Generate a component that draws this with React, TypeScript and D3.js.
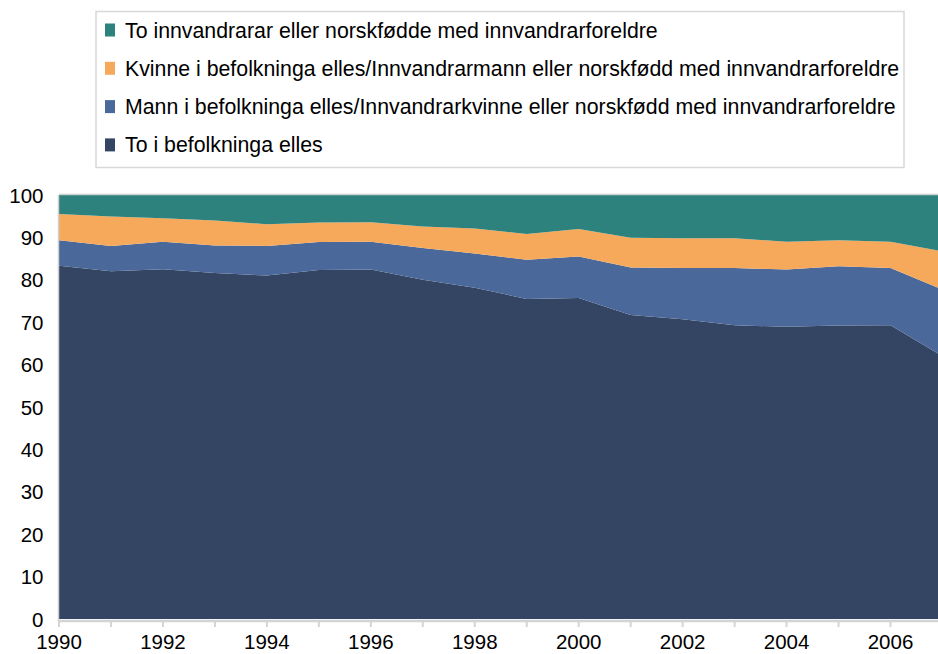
import React, { useEffect, useRef } from 'react';
import * as d3 from 'd3';

const years = [1990, 1991, 1992, 1993, 1994, 1995, 1996, 1997, 1998, 1999, 2000, 2001, 2002, 2003, 2004, 2005, 2006, 2007];

// shares in percent, bottom to top
const toBefolkninga = [83.3, 82.0, 82.5, 81.6, 81.0, 82.3, 82.4, 80.0, 78.1, 75.5, 75.7, 71.7, 70.7, 69.3, 68.9, 69.2, 69.3, 62.0];
const mannBefolkninga = [6.0, 6.0, 6.5, 6.5, 7.0, 6.6, 6.6, 7.5, 8.1, 9.2, 9.8, 11.2, 12.1, 13.5, 13.5, 14.0, 13.5, 15.7];
const kvinneBefolkninga = [6.2, 6.9, 5.5, 5.9, 5.1, 4.6, 4.6, 5.1, 5.9, 6.1, 6.5, 7.0, 7.0, 7.0, 6.6, 6.1, 6.2, 9.0];
const toInnvandrarar = [4.5, 5.1, 5.5, 6.0, 6.9, 6.5, 6.4, 7.4, 7.9, 9.2, 8.0, 10.1, 10.2, 10.2, 11.0, 10.7, 11.0, 13.3];

const seriesKeys = ['to', 'mann', 'kvinne', 'innv'];
const seriesNames = [
  'To i befolkninga elles',
  'Mann i befolkninga elles/Innvandrarkvinne eller norskfødd med innvandrarforeldre',
  'Kvinne i befolkninga elles/Innvandrarmann eller norskfødd med innvandrarforeldre',
  'To innvandrarar eller norskfødde med innvandrarforeldre',
];
const seriesColors = ['#344564', '#4a6899', '#f6a95b', '#2d827e'];

const yTicks = [0, 10, 20, 30, 40, 50, 60, 70, 80, 90, 100];
const xLabelYears = [1990, 1992, 1994, 1996, 1998, 2000, 2002, 2004, 2006];

const App = () => {
  const svgRef = useRef<SVGSVGElement | null>(null);

  useEffect(() => {
    const svg = d3.select(svgRef.current);
    svg.selectAll('*').remove();

    const font = '"Liberation Sans", Arial, sans-serif';
    const left = 59;
    const right = 942.5;
    const top = 195;
    const bottom = 619;

    const table = years.map((year, i) => ({
      year,
      to: toBefolkninga[i],
      mann: mannBefolkninga[i],
      kvinne: kvinneBefolkninga[i],
      innv: toInnvandrarar[i],
    }));

    const x = d3.scaleLinear().domain([1990, 2007]).range([left, right]);
    const y = d3.scaleLinear().domain([0, 100]).range([bottom, top]);

    const stacked = d3.stack<any>().keys(seriesKeys)(table);

    const area = d3
      .area<any>()
      .x((d) => x(d.data.year))
      .y0((d) => y(d[0]))
      .y1((d) => y(d[1]));

    svg
      .append('g')
      .selectAll('path')
      .data(stacked)
      .enter()
      .append('path')
      .attr('d', area)
      .attr('fill', (d, i) => seriesColors[i]);

    // plot frame
    svg
      .append('line')
      .attr('x1', left)
      .attr('x2', right)
      .attr('y1', top - 0.5)
      .attr('y2', top - 0.5)
      .attr('stroke', '#d0d0d0')
      .attr('stroke-width', 1.5);
    svg
      .append('line')
      .attr('x1', left - 0.5)
      .attr('x2', left - 0.5)
      .attr('y1', top)
      .attr('y2', bottom + 2)
      .attr('stroke', '#d0d0d0')
      .attr('stroke-width', 1.5);
    svg
      .append('line')
      .attr('x1', left - 1)
      .attr('x2', right)
      .attr('y1', bottom + 2)
      .attr('y2', bottom + 2)
      .attr('stroke', '#d4d4d4')
      .attr('stroke-width', 2.5);

    svg
      .append('g')
      .selectAll('line')
      .data(years)
      .enter()
      .append('line')
      .attr('x1', (d) => x(d))
      .attr('x2', (d) => x(d))
      .attr('y1', bottom + 2)
      .attr('y2', bottom + 8)
      .attr('stroke', '#d4d4d4')
      .attr('stroke-width', 2);

    svg
      .append('g')
      .selectAll('text')
      .data(xLabelYears)
      .enter()
      .append('text')
      .attr('x', (d) => x(d))
      .attr('y', 649)
      .attr('text-anchor', 'middle')
      .attr('font-family', font)
      .attr('font-size', 20.5)
      .attr('fill', '#000')
      .text((d) => d);

    svg
      .append('g')
      .selectAll('text')
      .data(yTicks)
      .enter()
      .append('text')
      .attr('x', 43.5)
      .attr('y', (d) => y(d) + 7.5)
      .attr('text-anchor', 'end')
      .attr('font-family', font)
      .attr('font-size', 20.5)
      .attr('fill', '#000')
      .text((d) => d);

    // legend
    const legend = svg.append('g');
    legend
      .append('rect')
      .attr('x', 96)
      .attr('y', 11.5)
      .attr('width', 808)
      .attr('height', 156)
      .attr('fill', '#fff')
      .attr('stroke', '#d8d8d8')
      .attr('stroke-width', 1.5);

    const order = [3, 2, 1, 0];
    order.forEach((si, row) => {
      const cy = 30 + row * 38.3;
      legend
        .append('rect')
        .attr('x', 105)
        .attr('y', cy - 6.5)
        .attr('width', 10)
        .attr('height', 13)
        .attr('fill', seriesColors[si]);
      legend
        .append('text')
        .attr('x', 125)
        .attr('y', cy + 7.5)
        .attr('font-family', font)
        .attr('font-size', 21.3)
        .attr('fill', '#000')
        .text(seriesNames[si]);
    });
  }, []);

  return (
    <svg
      ref={svgRef}
      width={938}
      height={654}
      style={{ position: 'absolute', left: 0, top: 0, background: '#fff' }}
    ></svg>
  );
};

export default App;
